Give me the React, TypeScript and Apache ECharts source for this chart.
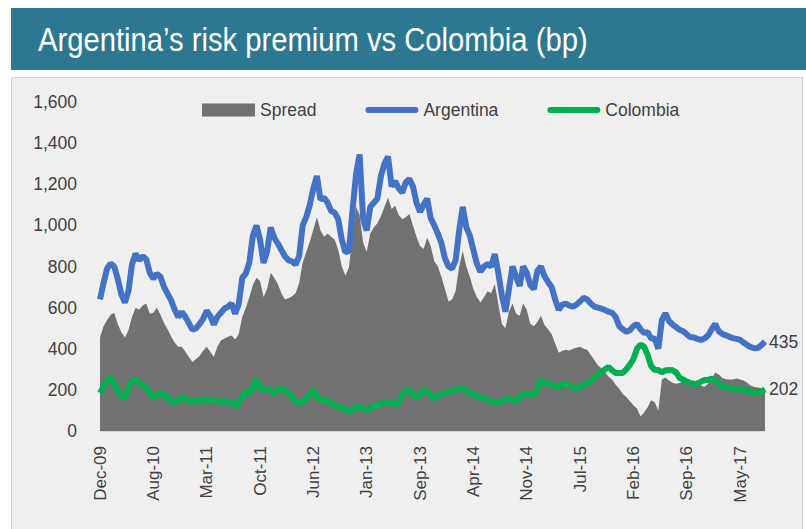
import React, { useEffect, useRef } from 'react';
import * as echarts from 'echarts';

const titleText = 'Argentina’s risk premium vs Colombia (bp)';

const tickLabels = [
  'Dec-09', 'Aug-10', 'Mar-11', 'Oct-11', 'Jun-12', 'Jan-13', 'Sep-13',
  'Apr-14', 'Nov-14', 'Jul-15', 'Feb-16', 'Sep-16', 'May-17',
];
const LABEL_STEP = 15;

const argentina = [
  640, 720, 790, 815, 800, 740, 665, 625, 680, 810,
  862, 830, 850, 835, 770, 740, 765, 750, 700, 668,
  635, 590, 555, 578, 555, 525, 492, 500, 520, 545,
  585, 560, 518, 555, 575, 595, 605, 620, 570, 615,
  745, 765, 820, 950, 1000, 930, 817, 875, 990, 940,
  912, 880, 850, 830, 825, 810, 850, 1000, 1040, 1100,
  1180, 1240, 1125, 1135, 1110, 1070, 1062, 1030, 930, 870,
  875, 1070, 1250, 1345, 1030, 975, 1090, 1110, 1130, 1240,
  1300, 1335, 1190, 1215, 1180, 1160, 1210, 1225, 1190, 1110,
  1065, 1100, 1130, 1035, 1000, 960, 914, 840, 800, 790,
  830, 975, 1090, 992, 950, 880, 812, 775, 800, 812,
  800, 860, 770, 660, 580, 690, 800, 750, 705, 800,
  770, 710, 690, 780, 800, 752, 725, 700, 640, 590,
  615, 620, 610, 605, 615, 630, 648, 640, 620, 605,
  600, 595, 588, 580, 575, 555, 510, 495, 482, 490,
  510, 520, 495, 477, 480, 450, 450, 400, 540, 572,
  535, 518, 505, 492, 485, 470, 457, 455, 448, 443,
  450, 465, 495, 520, 485, 472, 465, 458, 452, 448,
  443, 430, 418, 408, 403, 404, 418, 435,
];

const colombia = [
  185, 215, 245, 258, 230, 195, 170, 165, 205, 245,
  250, 235, 225, 210, 185, 165, 175, 185, 172, 165,
  145, 138, 150, 165, 155, 142, 150, 140, 150, 155,
  148, 152, 150, 145, 140, 145, 142, 140, 118, 140,
  165, 190, 185, 215, 250, 205, 200, 210, 195, 185,
  200, 208, 195, 185, 165, 142, 140, 142, 155, 180,
  199, 165, 152, 150, 145, 136, 122, 118, 115, 105,
  92, 105, 117, 115, 108, 102, 110, 120, 128, 132,
  138, 141, 135, 125, 140, 175, 195, 199, 180, 160,
  180, 199, 195, 175, 160, 170, 180, 185, 190, 195,
  200, 205, 209, 195, 185, 177, 172, 165, 158, 151,
  145, 140, 136, 145, 155, 160, 148, 145, 165, 182,
  180, 178, 175, 210, 248, 235, 230, 224, 218, 214,
  230, 228, 222, 210, 209, 215, 225, 233, 240, 260,
  278, 285, 300, 311, 295, 282, 282, 282, 300, 322,
  350, 400, 420, 410, 370, 315, 297, 297, 285, 295,
  297, 295, 285, 258, 250, 240, 233, 230, 228, 240,
  248, 248, 255, 245, 230, 214, 214, 210, 205, 200,
  205, 200, 198, 190, 190, 190, 192, 202,
];

const spread = [
  455, 510, 540, 565, 575, 520, 480, 455, 490, 555,
  600, 590, 610, 620, 570, 575, 600, 565, 525, 495,
  460, 430, 410, 410, 385, 360, 336, 350, 365, 390,
  410, 385, 360, 410, 440, 450, 458, 465, 445, 470,
  555, 600, 650, 710, 745, 730, 652, 690, 770, 745,
  715, 670, 640, 645, 655, 670, 720, 820, 870, 920,
  980, 1040, 975, 945, 960, 945, 930, 880, 800, 755,
  795, 950, 1090, 1050, 915, 870, 960, 990, 1010, 1045,
  1090, 1135, 1080, 1095, 1050, 1030, 1040, 1055, 1000, 945,
  900, 885, 940, 900, 825, 800, 750, 690, 630, 640,
  680, 800, 875, 800, 750, 690, 650, 625, 650, 680,
  670, 715, 620, 520, 500, 580, 620, 570, 560, 620,
  590, 520, 510, 530, 560, 515, 495, 470, 425, 380,
  390, 395, 392, 400, 405, 410, 400, 395, 370, 345,
  320, 305, 285, 265, 250, 225, 205, 180, 165, 145,
  125, 110, 70, 90, 115, 150, 140, 100, 250, 260,
  245, 235, 230, 233, 240, 235, 228, 240, 248, 220,
  215, 230, 250, 285, 275, 258, 252, 250, 250, 255,
  250, 245, 235, 220, 214, 212, 208, 205,
];

const categories = argentina.map((_, i) =>
  i % LABEL_STEP === 0 && tickLabels[i / LABEL_STEP] ? tickLabels[i / LABEL_STEP] : 'd' + i
);

const FONT = '"Liberation Sans", Arial, sans-serif';
const TEXT = '#404040';
const BLUE = '#4472c4';
const GREEN = '#00b050';
const GREY = '#717171';
const LINE_ICON = 'path://M3,0 L50,0 A3,3 0 0 1 50,6 L3,6 A3,3 0 0 1 3,0 Z';

export default function App() {
  const ref = useRef<HTMLDivElement>(null);
  useEffect(() => {
    const chart = echarts.init(ref.current as HTMLDivElement, null, { renderer: 'svg' });
    chart.setOption({
      animation: false,
      backgroundColor: '#ffffff',
      graphic: [
        {
          type: 'rect',
          z: -10,
          shape: { x: 11, y: 8, width: 800, height: 62 },
          style: { fill: '#2d7891' },
        },
        {
          type: 'rect',
          z: -10,
          shape: { x: 11.5, y: 77.5, width: 791, height: 460 },
          style: { fill: '#efefef', stroke: '#d4d4d4', lineWidth: 1 },
        },
        {
          type: 'text',
          z: 10,
          x: 38,
          y: 40,
          scaleX: 0.885,
          style: {
            text: titleText,
            fill: '#ffffff',
            fontSize: 33,
            fontFamily: FONT,
            verticalAlign: 'middle',
            align: 'left',
          },
        },
      ],
      legend: {
        left: 202,
        top: 101,
        padding: 0,
        itemWidth: 53,
        itemHeight: 13,
        itemGap: 49,
        textStyle: { fontSize: 17.5, color: TEXT, fontFamily: FONT },
        data: [
          { name: 'Spread', icon: 'rect' },
          { name: 'Argentina', icon: LINE_ICON },
          { name: 'Colombia', icon: LINE_ICON },
        ],
      },
      grid: { left: 100, right: 41, top: 102, bottom: 98 },
      xAxis: {
        type: 'category',
        data: categories,
        boundaryGap: false,
        axisLine: { show: true, lineStyle: { color: '#d9d9d9', width: 1 } },
        axisTick: { show: false },
        splitLine: { show: false },
        axisLabel: {
          interval: LABEL_STEP - 1,
          rotate: 90,
          margin: 15,
          fontSize: 17,
          color: TEXT,
          fontFamily: FONT,
        },
      },
      yAxis: {
        type: 'value',
        min: 0,
        max: 1600,
        interval: 200,
        axisLine: { show: false },
        axisTick: { show: false },
        splitLine: { show: false },
        axisLabel: {
          margin: 23,
          fontSize: 17.5,
          color: TEXT,
          fontFamily: FONT,
          formatter: (v: number) => v.toLocaleString('en-US'),
        },
      },
      series: [
        {
          name: 'Spread',
          type: 'line',
          data: spread,
          symbol: 'none',
          z: 1,
          lineStyle: { width: 0, color: GREY },
          itemStyle: { color: GREY },
          areaStyle: { color: GREY, opacity: 1 },
        },
        {
          name: 'Argentina',
          type: 'line',
          data: argentina,
          symbol: 'none',
          z: 3,
          lineStyle: { width: 6, color: BLUE },
          itemStyle: { color: BLUE },
          endLabel: {
            show: true,
            formatter: '{c}',
            color: TEXT,
            fontSize: 17.5,
            fontFamily: FONT,
            distance: 4,
          },
        },
        {
          name: 'Colombia',
          type: 'line',
          data: colombia,
          symbol: 'none',
          z: 4,
          lineStyle: { width: 6, color: GREEN },
          itemStyle: { color: GREEN },
          endLabel: {
            show: true,
            formatter: '{c}',
            color: TEXT,
            fontSize: 17.5,
            fontFamily: FONT,
            distance: 4,
          },
        },
      ],
    });
    return () => chart.dispose();
  }, []);
  return (
    <div
      ref={ref}
      style={{ position: 'absolute', left: 0, top: 0, width: 806, height: 529 }}
    />
  );
}
